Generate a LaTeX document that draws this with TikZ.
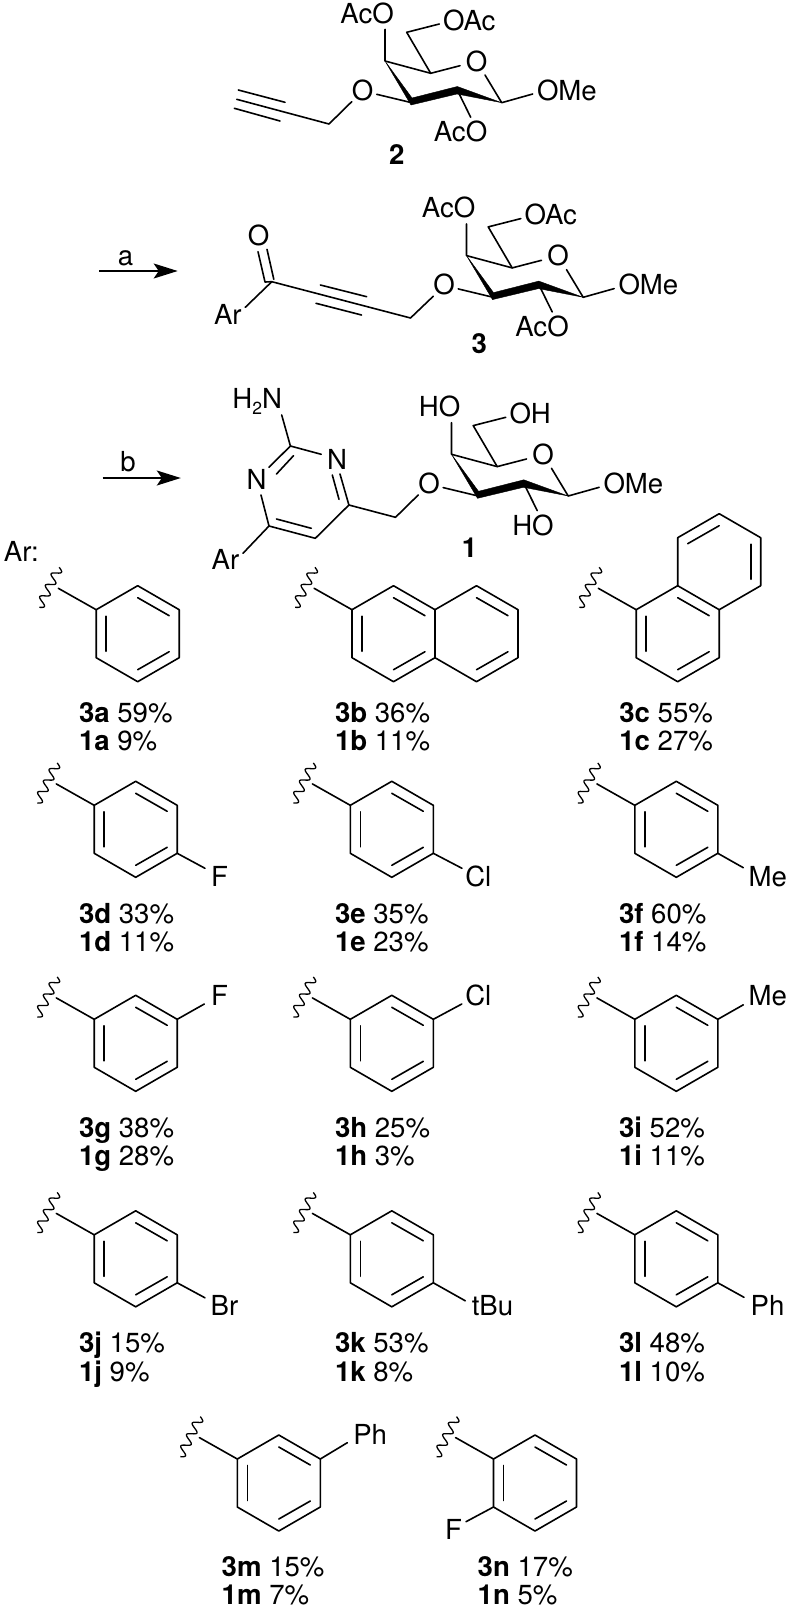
\documentclass[tikz,border=0pt]{standalone}
\usepackage{fontspec}
\setmainfont{TeX Gyre Heros}
\usetikzlibrary{arrows.meta}
\tikzset{
  bond/.style={line width=1.6pt,line join=round,line cap=round},
  wave/.style={line width=1.3pt,line join=round},
  atom/.style={inner sep=0pt,outer sep=0pt,font=\fontsize{27.6}{30}\selectfont},
  rxn/.style={line width=1.4pt,-{Stealth[length=24pt,width=15pt,inset=5pt]}},
  wedgefill/.style={fill=black,draw=black,line width=0.4pt,line join=round}
}
% aryl ring with wavy attachment; #4 = extras drawn in ring frame
\newcommand\arene[4]{%
\begin{scope}[shift={(#2,#3)}]
  \coordinate (#1v1) at (-41.5,-24);
  \coordinate (#1v2) at (0,-48);
  \coordinate (#1v3) at (41.5,-24);
  \coordinate (#1v4) at (41.5,24);
  \coordinate (#1v5) at (0,48);
  \coordinate (#1v6) at (-41.5,24);
  \coordinate (#1w) at (-79.4,-45.4);
  \coordinate (#1il1) at (-31.5,-17.5);
  \coordinate (#1il2) at (-31.5,17.5);
  \coordinate (#1it1) at (0,-36);
  \coordinate (#1it2) at (31.5,-18);
  \coordinate (#1ib1) at (0,36);
  \coordinate (#1ib2) at (31.5,18);
  \draw[bond] (#1v1) -- (#1v2) -- (#1v3) -- (#1v4) -- (#1v5) -- (#1v6) -- cycle;
  \draw[bond] (#1il1) -- (#1il2);
  \draw[bond] (#1it1) -- (#1it2);
  \draw[bond] (#1ib1) -- (#1ib2);
  \draw[bond] (#1v1) -- (#1w);
  \draw[wave] plot[smooth,domain=0:1,samples=60,variable=\t]
     ({-78.5-20*\t+3.8*sin(1260*\t)},{-66.4+40*\t+2.1*sin(1260*\t)});
  #4
\end{scope}}
% substituent: ring, vertex, bond end x y, text x y, text
\newcommand\subst[7]{%
  \coordinate (#1e) at (#3,#4);
  \draw[bond] (#1v#2) -- (#1e);
  \node[atom,anchor=base west] (#1t) at (#5,#6) {#7};}
% yield lines
\newcommand\yield[6]{%
  \node[atom,anchor=base west] (y3#1) at (#2,#3) {\textbf{3#1} #5\%};
  \node[atom,anchor=base west] (y1#1) at (#2,#4) {\textbf{1#1} #6\%};}
% sugar
\newcommand\sugar[6]{%
\begin{scope}[shift={(#2,#3)}]
  \coordinate (#1c1) at (501.7,102.7);
  \coordinate (#1c4) at (385,61);
  \coordinate (#1c5) at (430.7,73.3);
  \coordinate (#1c6) at (406.7,32.3);
  \coordinate (#1c3) at (411.7,102.7);
  \coordinate (#1c2) at (457.3,90);
  \coordinate (#1c3t) at (412,98);
  \coordinate (#1c2t) at (457.3,86.5);
  \coordinate (#1c2b) at (457,94);
  \coordinate (#1c3b) at (411,105);
  \node[atom,anchor=base] (#1Oring) at (476.7,71) {O};
  \node[atom,anchor=base] (#1O3) at (362.7,100) {O};
  \node[atom,anchor=base east] (#1top) at (393.8,23.3) {#4};
  \node[atom,anchor=base west] (#1six) at (443,30) {#5};
  \node[atom,anchor=base west] (#1ome) at (537,100) {OMe};
  \node[atom,anchor=base east] (#1bot) at (487.2,141.7) {#6};
  \coordinate (#1a) at (385,29.3);
  \coordinate (#1b) at (460,65.7);
  \coordinate (#1d) at (485,75);
  \coordinate (#1e) at (532.7,94);
  \coordinate (#1f) at (439.3,24);
  \coordinate (#1g) at (376.7,94.3);
  \coordinate (#1h) at (470.7,117.3);
  \coordinate (#1Oe) at (351.7,101.7);
  \fill[wedgefill] (#1c4) -- (#1c3t) -- (#1c2t) -- (#1c1) -- (#1c2b) -- (#1c3b) -- cycle;
  \draw[bond] (#1a) -- (#1c4) -- (#1c5) -- (#1b);
  \draw[bond] (#1d) -- (#1c1) -- (#1e);
  \draw[bond] (#1c5) -- (#1c6) -- (#1f);
  \draw[bond] (#1g) -- (#1c3);
  \draw[bond] (#1c2) -- (#1h);
\end{scope}}
\begin{document}
\begin{tikzpicture}[x=1pt,y=-1pt]
\useasboundingbox (0,0) rectangle (788,1609);

% ---------- compound 2
\sugar{s}{0}{0}{AcO}{OAc}{AcO}
\coordinate (sch) at (329,124);
\coordinate (sy) at (236.7,99.3);
\coordinate (su1) at (285,102.3);
\coordinate (su2) at (238.3,90);
\coordinate (sl1) at (280,121);
\coordinate (sl2) at (234.3,108.3);
\draw[bond] (sOe) -- (sch) -- (sy);
\draw[bond] (su1) -- (su2);
\draw[bond] (sl1) -- (sl2);
\node[atom,anchor=base] (lab2) at (396.7,164.3) {\textbf{2}};

% ---------- arrow a
\coordinate (a1) at (99,271);
\coordinate (a2) at (177.7,271);
\draw[rxn] (a1) -- (a2);
\node[atom,anchor=base] (alab) at (125.5,265) {a};

% ---------- compound 3
\sugar{t}{81.5}{194.6}{AcO}{OAc}{AcO}
\coordinate (tch) at (410.5,318);
\coordinate (tco) at (271.8,281.7);
\coordinate (tu1) at (320.4,285);
\coordinate (tu2) at (366.7,296.7);
\coordinate (tl1) at (316,303.3);
\coordinate (tl2) at (361.5,315);
\draw[bond] (tOe) -- (tch) -- (tco);
\draw[bond] (tu1) -- (tu2);
\draw[bond] (tl1) -- (tl2);
\node[atom,anchor=base] (tcarb) at (258.7,245.5) {O};
\coordinate (td1) at (258,251.7);
\coordinate (td2) at (265,282);
\coordinate (td3) at (267,249.3);
\coordinate (td4) at (273.8,279.3);
\draw[bond] (td1) -- (td2) -- (tco);
\draw[bond] (td3) -- (td4);
\node[atom,anchor=base west] (tar) at (214,324.3) {Ar};
\coordinate (tare) at (245.3,307.3);
\draw[bond] (tco) -- (tare);
\node[atom,anchor=base] (lab3) at (479.4,353.3) {\textbf{3}};

% ---------- arrow b
\coordinate (b1) at (102.5,478);
\coordinate (b2) at (180.8,478);
\draw[rxn] (b1) -- (b2);
\node[atom,anchor=base] (blab) at (128,471) {b};

% ---------- compound 1
\sugar{u}{66.5}{393.3}{HO}{OH}{HO}
\coordinate (uch) at (395.5,517.3);
\coordinate (p2) at (290.4,446);
\coordinate (p4) at (348.9,505);
\coordinate (p5) at (315.3,538.3);
\coordinate (p6) at (269,526);
\coordinate (pna) at (281.7,415);
\coordinate (n3a) at (321.2,454.3);
\coordinate (n3b) at (340,474);
\coordinate (n1a) at (269,467.3);
\coordinate (n1b) at (261,495);
\coordinate (i1) at (293.5,455.7);
\coordinate (i2) at (276.5,474);
\coordinate (i3) at (332.3,475);
\coordinate (i4) at (339,499.3);
\coordinate (i5) at (276.5,519);
\coordinate (i6) at (311.3,528.3);
\coordinate (pare) at (243,553.3);
\node[atom,anchor=base west] (nh2) at (232.4,408.3) {H\raisebox{-0.22em}{\fontsize{17.5}{17.5}\selectfont 2}N};
\node[atom,anchor=base] (n3) at (337,469) {N};
\node[atom,anchor=base] (n1) at (256.7,489.3) {N};
\node[atom,anchor=base west] (uar) at (211.7,569.3) {Ar};
\draw[bond] (pna) -- (p2) -- (n3a);
\draw[bond] (p2) -- (n1a);
\draw[bond] (n3b) -- (p4) -- (p5) -- (p6) -- (n1b);
\draw[bond] (i1) -- (i2);
\draw[bond] (i3) -- (i4);
\draw[bond] (i5) -- (i6);
\draw[bond] (p6) -- (pare);
\draw[bond] (p4) -- (uch) -- (uOe);
\node[atom,anchor=base] (lab1) at (469.5,557.3) {\textbf{1}};

% ---------- Ar list
\node[atom,anchor=base west] (arlab) at (4,561.7) {Ar:};

% row 1
\arene{ra}{137.7}{633.7}{}
\yield{a}{79}{722.7}{750.7}{59}{9}
\arene{rb}{393.5}{633.7}{%
  \begin{scope}[shift={(83,0)}]
    \coordinate (rb2a) at (0,-48);
    \coordinate (rb2b) at (41.5,-24);
    \coordinate (rb2c) at (41.5,24);
    \coordinate (rb2d) at (0,48);
    \coordinate (rb2e) at (0,-36);
    \coordinate (rb2f) at (31.5,-18);
    \coordinate (rb2g) at (0,36);
    \coordinate (rb2h) at (31.5,18);
    \draw[bond] (rbv3) -- (rb2a) -- (rb2b) -- (rb2c) -- (rb2d) -- (rbv4);
    \draw[bond] (rb2e) -- (rb2f);
    \draw[bond] (rb2g) -- (rb2h);
  \end{scope}}
\yield{b}{335}{722.7}{750.7}{36}{11}
\arene{rc}{677.7}{633.7}{%
  \begin{scope}[shift={(41.5,-72)}]
    \coordinate (rc2a) at (-41.5,-24);
    \coordinate (rc2b) at (0,-48);
    \coordinate (rc2c) at (41.5,-24);
    \coordinate (rc2d) at (41.5,24);
    \coordinate (rc2e) at (-31.5,-18);
    \coordinate (rc2f) at (0,-36);
    \coordinate (rc2g) at (31.5,-17.5);
    \coordinate (rc2h) at (31.5,17.5);
    \draw[bond] (rcv2) -- (rc2a) -- (rc2b) -- (rc2c) -- (rc2d) -- (rcv3);
    \draw[bond] (rc2e) -- (rc2f);
    \draw[bond] (rc2g) -- (rc2h);
  \end{scope}}
\yield{c}{619.3}{722.7}{750.7}{55}{27}

% row 2
\arene{rd}{135.7}{829.3}{\subst{rd}{4}{69.3}{39}{75.3}{56.7}{F}}
\yield{d}{79}{923.3}{951}{33}{11}
\arene{re}{391.8}{829.3}{\subst{re}{4}{70.2}{39}{73.5}{56.7}{Cl}}
\yield{e}{335}{923.3}{951}{35}{23}
\arene{rf}{676.3}{829.3}{\subst{rf}{4}{67}{38.4}{72.4}{56.7}{Me}}
\yield{f}{619}{923.3}{951}{60}{14}

% row 3
\arene{rg}{135.7}{1043.3}{\subst{rg}{3}{68.6}{-39.3}{75.3}{-38.3}{F}}
\yield{g}{79}{1137.3}{1165.7}{38}{28}
\arene{rh}{391.8}{1043.3}{\subst{rh}{3}{70}{-39.3}{73.5}{-38.3}{Cl}}
\yield{h}{335}{1137.3}{1165.7}{25}{3}
\arene{ri}{676.3}{1043.3}{\subst{ri}{3}{67}{-38.5}{72.4}{-38.3}{Me}}
\yield{i}{619}{1137.3}{1165.7}{52}{11}

% row 4
\arene{rj}{135.7}{1258.8}{\subst{rj}{4}{69.3}{39}{75}{56.2}{Br}}
\yield{j}{79}{1352.7}{1381}{15}{9}
\arene{rk}{391.8}{1258.8}{\subst{rk}{4}{73.5}{42}{80}{56.2}{tBu}}
\yield{k}{335}{1352.7}{1381}{53}{8}
\arene{rl}{676.3}{1258.8}{\subst{rl}{4}{67.7}{38.5}{74.4}{56.2}{Ph}}
\yield{l}{619}{1352.7}{1381}{48}{10}

% row 5
\arene{rm}{278.8}{1483}{\subst{rm}{3}{68.5}{-40.3}{74.5}{-38.7}{Ph}}
\yield{m}{221.7}{1576.7}{1604}{15}{7}
\arene{rn}{535}{1483}{\subst{rn}{6}{-69}{38.7}{-90}{56.3}{F}}
\yield{n}{477.7}{1576.7}{1604}{17}{5}
\end{tikzpicture}
\end{document}
